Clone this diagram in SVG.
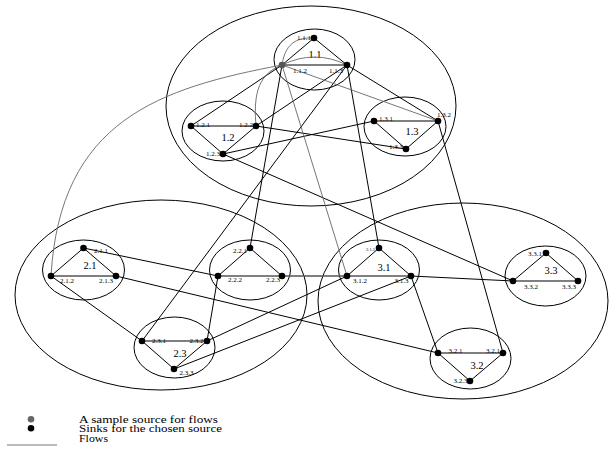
<svg xmlns="http://www.w3.org/2000/svg" width="609" height="456" viewBox="0 0 609 456">
<style>
.cl{fill:none;stroke:#000;stroke-width:1}
.e{fill:none;stroke:#000;stroke-width:1}
.f{fill:none;stroke:#666;stroke-width:0.9}
.fe{fill:none;stroke:#555;stroke-width:1.6}
.d{fill:#000}
.s{fill:#555}
.t{font-family:"Liberation Serif",serif;font-size:7px;fill:#000}
.c{font-family:"Liberation Serif",serif;font-size:10.5px;fill:#000;text-anchor:middle}
.lg{font-family:"Liberation Serif",serif;font-size:11px;fill:#000}
</style>
<rect width="609" height="456" fill="#fff"/>
<g id="clusters">
<ellipse id="c1" class="cl" cx="311" cy="106" rx="145" ry="100"/>
<ellipse id="c2" class="cl" cx="161" cy="295" rx="146" ry="95"/>
<ellipse id="c3" class="cl" cx="463" cy="301" rx="145" ry="98"/>
<g id="c1_1"><ellipse class="cl" cx="314.5" cy="59.5" rx="40.5" ry="30.5"/><text class="c" x="315" y="57.5">1.1</text></g>
<g id="c1_2"><ellipse class="cl" cx="223" cy="131" rx="41" ry="30"/><text class="c" x="228" y="141">1.2</text></g>
<g id="c1_3"><ellipse class="cl" cx="405" cy="126.5" rx="41" ry="29.5"/><text class="c" x="412" y="135">1.3</text></g>
<g id="c2_1"><ellipse class="cl" cx="83.5" cy="270" rx="41" ry="30"/><text class="c" x="90" y="269">2.1</text></g>
<g id="c2_2"><ellipse class="cl" cx="250" cy="270" rx="40.5" ry="30"/></g>
<g id="c2_3"><ellipse class="cl" cx="174.5" cy="347.5" rx="40.5" ry="30.5"/><text class="c" x="180" y="356.5">2.3</text></g>
<g id="c3_1"><ellipse class="cl" cx="379" cy="270" rx="40.5" ry="30"/><text class="c" x="384" y="271">3.1</text></g>
<g id="c3_2"><ellipse class="cl" cx="470.5" cy="358.5" rx="40.5" ry="30.5"/><text class="c" x="477" y="368.5">3.2</text></g>
<g id="c3_3"><ellipse class="cl" cx="545.5" cy="276" rx="40.5" ry="30"/><text class="c" x="551" y="274">3.3</text></g>
</g>
<g id="connectors">
<path class="e" d="M314,38L282,65M314,38L347,65M282,65L347,65"/>
<path class="e" d="M191,126L223,154L256,126"/>
<path class="fe" d="M191,126L256,126"/>
<path class="e" d="M374,121L438,121M374,121L406,149L438,121"/>
<path class="e" d="M51,276L83.5,248L116,276L51,276"/>
<path class="e" d="M218,276L250,248L282,276L218,276"/>
<path class="e" d="M142,341L174,369L207,341"/>
<path class="fe" d="M142,341L207,341"/>
<path class="e" d="M347,276L379,248L411,276L347,276"/>
<path class="e" d="M438,353L470,381L503,353"/>
<path class="fe" d="M438,353L503,353"/>
<path class="e" d="M513,281L546,253L578,281"/>
<path class="fe" d="M513,281L578,281"/>
<path class="e" d="M282,65L191,126"/>
<path class="e" d="M347,65L256,126"/>
<path class="e" d="M347,65L438,121"/>
<path class="e" d="M256,126L406,149"/>
<path class="e" d="M223,154L374,121"/>
<path class="e" d="M223,154L513,281"/>
<path class="e" d="M438,121L503,353"/>
<path class="e" d="M282,65L250,248"/>
<path class="e" d="M347,65L142,341"/>
<path class="e" d="M347,65L379,248"/>
<path class="e" d="M83.5,248L218,276"/>
<path class="e" d="M51,276L142,341"/>
<path class="e" d="M116,276L438,353"/>
<path class="e" d="M218,276L207,341"/>
<path class="fe" d="M282,276L347,276"/>
<path class="e" d="M347,276L207,341"/>
<path class="e" d="M411,276L174,369"/>
<path class="e" d="M411,276L513,281"/>
<path class="e" d="M411,276L438,353"/>
<path class="f" d="M282,65C285,45 295,37 314,38"/>
<path class="f" d="M282,65Q314.5,49 347,65"/>
<path class="f" d="M282,65C255,75 254,100 256,126"/>
<path class="f" d="M282,65L438,121"/>
<path class="f" d="M282,65L347,276"/>
<path class="f" d="M282,65C160,88 60,120 51,276"/>
</g>
<g id="n1_1_1"><circle class="d" cx="314" cy="38" r="3.3"/><text class="t" x="311" y="39.5" text-anchor="end">1.1.1</text></g>
<g id="n1_1_2"><circle class="s" cx="282" cy="65" r="3.3"/><text class="t" x="293" y="72.5">1.1.2</text></g>
<g id="n1_1_3"><circle class="d" cx="347" cy="65" r="3.3"/><text class="t" x="343" y="72.5" text-anchor="end">1.1.3</text></g>
<g id="n1_2_1"><circle class="d" cx="191" cy="126" r="3.3"/><text class="t" x="196" y="126.5">1.2.1</text></g>
<g id="n1_2_2"><circle class="d" cx="256" cy="126" r="3.3"/><text class="t" x="253" y="126.5" text-anchor="end">1.2.2</text></g>
<g id="n1_2_3"><circle class="d" cx="223" cy="154" r="3.3"/><text class="t" x="220" y="156" text-anchor="end">1.2.3</text></g>
<g id="n1_3_1"><circle class="d" cx="374" cy="121" r="3.3"/><text class="t" x="379" y="121">1.3.1</text></g>
<g id="n1_3_2"><circle class="d" cx="438" cy="121" r="3.3"/><text class="t" x="437" y="116.5">1.3.2</text></g>
<g id="n1_3_3"><circle class="d" cx="406" cy="149" r="3.3"/><text class="t" x="403" y="149" text-anchor="end">1.3.3</text></g>
<g id="n2_1_1"><circle class="d" cx="83.5" cy="248" r="3.3"/><text class="t" x="94" y="253">2.1.1</text></g>
<g id="n2_1_2"><circle class="d" cx="51" cy="276" r="3.3"/><text class="t" x="60" y="283">2.1.2</text></g>
<g id="n2_1_3"><circle class="d" cx="116" cy="276" r="3.3"/><text class="t" x="113" y="283" text-anchor="end">2.1.3</text></g>
<g id="n2_2_1"><circle class="d" cx="250" cy="248" r="3.3"/><text class="t" x="247" y="252.5" text-anchor="end">2.2.1</text></g>
<g id="n2_2_2"><circle class="d" cx="218" cy="276" r="3.3"/><text class="t" x="228" y="282">2.2.2</text></g>
<g id="n2_2_3"><circle class="d" cx="282" cy="276" r="3.3"/><text class="t" x="280" y="282" text-anchor="end">2.2.3</text></g>
<g id="n2_3_1"><circle class="d" cx="142" cy="341" r="3.3"/><text class="t" x="152" y="342.5">2.3.1</text></g>
<g id="n2_3_2"><circle class="d" cx="207" cy="341" r="3.3"/><text class="t" x="203.5" y="342.5" text-anchor="end">2.3.2</text></g>
<g id="n2_3_3"><circle class="d" cx="174" cy="369" r="3.3"/><text class="t" x="179.5" y="375">2.3.3</text></g>
<g id="n3_1_1"><circle class="d" cx="379" cy="248" r="3.3"/><text class="t" x="375" y="251" text-anchor="end" style="font-size:4.5px">3.1.1</text></g>
<g id="n3_1_2"><circle class="d" cx="347" cy="276" r="3.3"/><text class="t" x="353" y="283">3.1.2</text></g>
<g id="n3_1_3"><circle class="d" cx="411" cy="276" r="3.3"/><text class="t" x="408.5" y="283" text-anchor="end">3.1.3</text></g>
<g id="n3_2_1"><circle class="d" cx="438" cy="353" r="3.3"/><text class="t" x="448.5" y="352.5">3.2.1</text></g>
<g id="n3_2_2"><circle class="d" cx="503" cy="353" r="3.3"/><text class="t" x="500" y="352.5" text-anchor="end">3.2.1</text></g>
<g id="n3_2_3"><circle class="d" cx="470" cy="381" r="3.3"/><text class="t" x="467.5" y="383" text-anchor="end">3.2.3</text></g>
<g id="n3_3_1"><circle class="d" cx="546" cy="253" r="3.3"/><text class="t" x="542" y="256" text-anchor="end">3.3.1</text></g>
<g id="n3_3_2"><circle class="d" cx="513" cy="281" r="3.3"/><text class="t" x="524" y="288.5">3.3.2</text></g>
<g id="n3_3_3"><circle class="d" cx="578" cy="281" r="3.3"/><text class="t" x="576" y="288.5" text-anchor="end">3.3.3</text></g>
<g id="legend">
<circle cx="31" cy="419.3" r="3.3" fill="#666"/>
<circle cx="31" cy="428.3" r="3.3" fill="#000"/>
<line x1="7" y1="445" x2="57" y2="445" stroke="#666" stroke-width="0.9"/>
<text class="lg" x="79" y="422.5" textLength="139" lengthAdjust="spacingAndGlyphs">A sample source for flows</text>
<text class="lg" x="79" y="432" textLength="143" lengthAdjust="spacingAndGlyphs">Sinks for the chosen source</text>
<text class="lg" x="79" y="441.5" textLength="29" lengthAdjust="spacingAndGlyphs">Flows</text>
</g>
</svg>
